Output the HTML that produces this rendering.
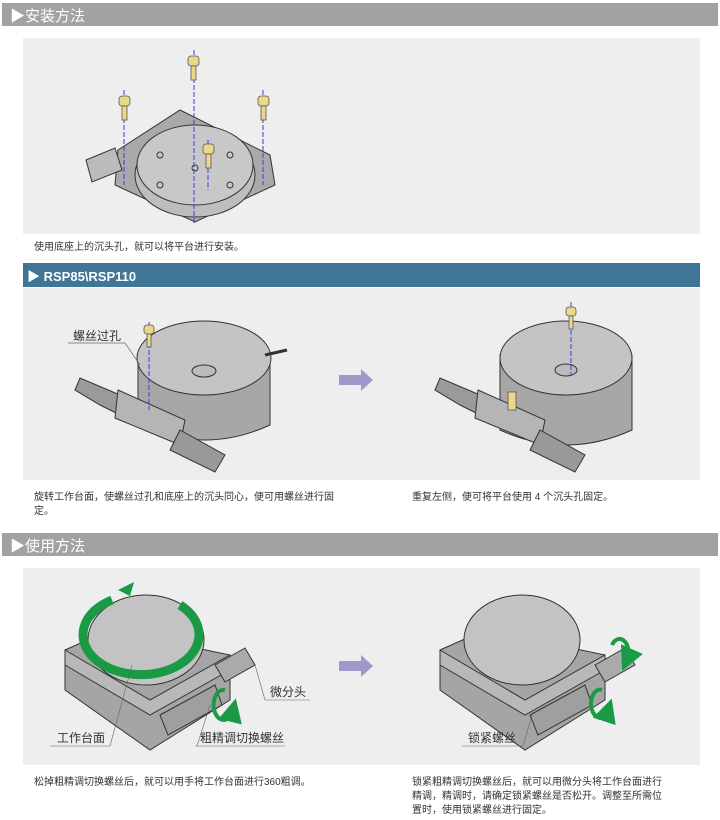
<!DOCTYPE html>
<html><head><meta charset="utf-8"><style>
html,body{margin:0;padding:0;background:#fff;}
body{width:720px;height:820px;position:relative;overflow:hidden;font-family:"Liberation Sans","Noto Sans CJK SC",sans-serif;}
.t{position:absolute;font-size:10px;color:#333;line-height:14px;}
</style></head><body>
<svg width="720" height="820" style="position:absolute;left:0;top:0" font-family="Liberation Sans, Noto Sans CJK SC, sans-serif">
<defs>
<marker id="g" markerWidth="6" markerHeight="6" refX="3" refY="3" orient="auto"><path d="M0,0L6,3L0,6z" fill="#1a9a45"/></marker>
</defs>
<rect x="2" y="3" width="716" height="23" fill="#a2a2a2"/>
<text x="10" y="21" font-size="15" fill="#fff">▶安装方法</text>
<rect x="23" y="38" width="677" height="196" fill="#eeeeee"/>
<rect x="23" y="263" width="677" height="24" fill="#3f7596"/>
<text x="27" y="281" font-size="13" font-weight="bold" fill="#fff">▶ RSP85\RSP110</text>
<rect x="23" y="288" width="677" height="192" fill="#eeeeee"/>
<rect x="2" y="533" width="716" height="23" fill="#a2a2a2"/>
<text x="10" y="551" font-size="15" fill="#fff">▶使用方法</text>
<rect x="23" y="568" width="677" height="197" fill="#eeeeee"/>

<!-- device 1 -->
<g stroke="#333" stroke-width="1">
<path d="M118,150 L180,110 L270,155 L275,185 L195,222 L115,185 Z" fill="#a9a9a9"/>
<path d="M86,160 L115,148 L122,170 L92,182 Z" fill="#bbb"/>
<ellipse cx="195" cy="175" rx="60" ry="42" fill="#bdbdbd"/>
<ellipse cx="195" cy="165" rx="58" ry="40" fill="#c8c8c8"/>
<circle cx="160" cy="155" r="3" fill="none"/><circle cx="230" cy="155" r="3" fill="none"/>
<circle cx="160" cy="185" r="3" fill="none"/><circle cx="230" cy="185" r="3" fill="none"/>
<circle cx="195" cy="168" r="3" fill="none"/>
</g>
<g stroke="#3344dd" stroke-dasharray="5,2" stroke-width="1">
<line x1="194" y1="50" x2="194" y2="225"/><line x1="124" y1="90" x2="124" y2="185"/><line x1="263" y1="90" x2="263" y2="185"/><line x1="208" y1="140" x2="208" y2="190"/>
</g>
<g fill="#e8d98a" stroke="#555" stroke-width=".8">
<rect x="188" y="56" width="11" height="10" rx="3"/><rect x="191" y="66" width="5" height="14"/>
<rect x="119" y="96" width="11" height="10" rx="3"/><rect x="122" y="106" width="5" height="14"/>
<rect x="258" y="96" width="11" height="10" rx="3"/><rect x="261" y="106" width="5" height="14"/>
<rect x="203" y="144" width="11" height="10" rx="3"/><rect x="206" y="154" width="5" height="14"/>
</g>

<!-- device 2 left -->
<g stroke="#333" stroke-width="1">
<path d="M138,355 L270,355 L270,425 Q205,455 138,425 Z" fill="#a7a7a7"/>
<ellipse cx="204" cy="358" rx="67" ry="37" fill="#c4c4c4"/>
<ellipse cx="204" cy="371" rx="12" ry="6" fill="#bbb"/>
<line x1="265" y1="355" x2="287" y2="350" stroke-width="3"/>
<path d="M80,378 L120,395 L180,420 L170,440 L100,405 L75,390Z" fill="#9a9a9a"/>
<path d="M118,390 L185,420 L180,445 L115,418Z" fill="#b5b5b5"/>
<path d="M180,430 L225,455 L215,472 L170,450Z" fill="#999"/>
</g>
<line x1="149" y1="322" x2="149" y2="410" stroke="#3344dd" stroke-dasharray="5,2"/>
<rect x="144" y="325" width="10" height="9" rx="3" fill="#e8d98a" stroke="#555" stroke-width=".8"/><rect x="147" y="334" width="4" height="13" fill="#e8d98a" stroke="#555" stroke-width=".8"/>
<text x="73" y="340" font-size="12" fill="#333">螺丝过孔</text>
<line x1="68" y1="343" x2="125" y2="343" stroke="#666" stroke-width=".7"/><line x1="125" y1="343" x2="140" y2="365" stroke="#666" stroke-width=".7"/>
<path d="M339,375 h22 v-6 l12,11 l-12,11 v-6 h-22z" fill="#9f98c8"/>
<!-- device 2 right -->
<g stroke="#333" stroke-width="1">
<path d="M500,355 L632,355 L632,430 Q566,460 500,430 Z" fill="#a7a7a7"/>
<ellipse cx="566" cy="358" rx="66" ry="37" fill="#c4c4c4"/>
<ellipse cx="566" cy="370" rx="11" ry="6" fill="#bbb"/>
<path d="M440,378 L480,395 L540,420 L530,440 L460,405 L435,390Z" fill="#9a9a9a"/>
<path d="M478,390 L545,420 L540,445 L475,418Z" fill="#b5b5b5"/>
<path d="M540,430 L585,455 L575,472 L530,450Z" fill="#999"/>
</g>
<line x1="571" y1="302" x2="571" y2="375" stroke="#3344dd" stroke-dasharray="5,2"/>
<rect x="566" y="307" width="10" height="9" rx="3" fill="#e8d98a" stroke="#555" stroke-width=".8"/><rect x="569" y="316" width="4" height="13" fill="#e8d98a" stroke="#555" stroke-width=".8"/>
<rect x="508" y="392" width="8" height="18" fill="#e8d98a" stroke="#555" stroke-width=".8"/>

<!-- device 3 left -->
<g stroke="#333" stroke-width="1">
<path d="M65,650 L110,630 L230,655 L230,700 L150,750 L65,690 Z" fill="#a5a5a5"/>
<path d="M65,650 L150,700 L230,655 L230,670 L150,715 L65,665Z" fill="#b8b8b8"/>
<ellipse cx="146" cy="640" rx="58" ry="45" fill="#c3c3c3"/>
<path d="M215,665 L245,648 L255,665 L225,682Z" fill="#aaa"/>
<path d="M160,715 L215,685 L222,705 L168,735Z" fill="#9f9f9f"/>
</g>
<path d="M180,605 A58,40 0 1,1 112,600" fill="none" stroke="#1a9a45" stroke-width="9" stroke-linecap="butt"/>
<path d="M118,590 l16,-8 l-4,14z" fill="#1a9a45"/>
<path d="M225,690 a10,15 0 1,0 8,20" fill="none" stroke="#1a9a45" stroke-width="4" marker-end="url(#g)"/>
<text x="57" y="742" font-size="12" fill="#333">工作台面</text><line x1="50" y1="746" x2="110" y2="746" stroke="#666" stroke-width=".6"/><line x1="110" y1="746" x2="132" y2="665" stroke="#666" stroke-width=".6"/>
<text x="200" y="742" font-size="12" fill="#333">粗精调切换螺丝</text><line x1="195" y1="746" x2="285" y2="746" stroke="#666" stroke-width=".6"/><line x1="197" y1="746" x2="210" y2="705" stroke="#666" stroke-width=".6"/>
<text x="270" y="696" font-size="12" fill="#333">微分头</text><line x1="265" y1="700" x2="310" y2="700" stroke="#666" stroke-width=".6"/><line x1="265" y1="700" x2="255" y2="665" stroke="#666" stroke-width=".6"/>
<path d="M339,661 h22 v-6 l12,11 l-12,11 v-6 h-22z" fill="#9f98c8"/>
<!-- device 3 right -->
<g stroke="#333" stroke-width="1">
<path d="M440,650 L485,630 L605,655 L605,700 L525,750 L440,690 Z" fill="#a5a5a5"/>
<path d="M440,650 L525,700 L605,655 L605,670 L525,715 L440,665Z" fill="#b8b8b8"/>
<ellipse cx="522" cy="640" rx="58" ry="45" fill="#c3c3c3"/>
<path d="M595,665 L625,648 L635,665 L605,682Z" fill="#aaa"/>
<path d="M530,715 L585,685 L592,705 L538,735Z" fill="#9f9f9f"/>
</g>
<path d="M612,645 a8,12 0 1,1 15,15" fill="none" stroke="#1a9a45" stroke-width="4" marker-end="url(#g)"/>
<path d="M602,690 a9,14 0 1,0 6,20" fill="none" stroke="#1a9a45" stroke-width="4" marker-end="url(#g)"/>
<text x="468" y="742" font-size="12" fill="#333">锁紧螺丝</text><line x1="462" y1="746" x2="523" y2="746" stroke="#666" stroke-width=".6"/><line x1="523" y1="746" x2="533" y2="712" stroke="#666" stroke-width=".6"/>
</svg>
<div class="t" style="left:34px;top:241px">使用底座上的沉头孔，就可以将平台进行安装。</div>
<div class="t" style="left:34px;top:491px;width:300px">旋转工作台面，使螺丝过孔和底座上的沉头同心，便可用螺丝进行固定。</div>
<div class="t" style="left:412px;top:491px">重复左侧，便可将平台使用 4 个沉头孔固定。</div>
<div class="t" style="left:34px;top:776px">松掉粗精调切换螺丝后，就可以用手将工作台面进行360粗调。</div>
<div class="t" style="left:412px;top:776px;width:255px">锁紧粗精调切换螺丝后，就可以用微分头将工作台面进行精调，精调时，请确定锁紧螺丝是否松开。调整至所需位置时，使用锁紧螺丝进行固定。</div>
</body></html>
